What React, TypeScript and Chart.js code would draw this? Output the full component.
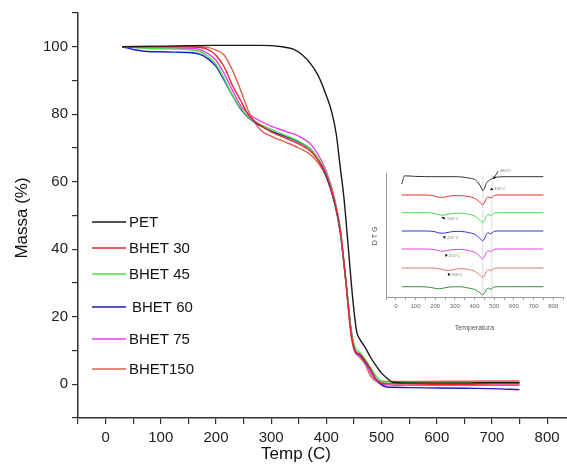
import React, { useEffect, useRef } from "react";
import { Chart, registerables } from "chart.js";

Chart.register(...registerables);

// ---------- Main TGA data ----------
const tempColored = [30, 50, 75, 100, 125, 150, 170, 185, 200, 215, 230, 245, 260, 280, 300, 325, 350, 375, 400, 415, 425, 435, 445, 452, 460, 470, 480, 490, 500, 510, 525, 550, 600, 650, 700, 750];
const tempPET = [30, 100, 200, 280, 320, 340, 355, 370, 385, 400, 410, 418, 425, 432, 440, 448, 455, 460, 470, 480, 490, 500, 510, 520, 550, 600, 650, 700, 750];

const massPET = [100, 100.2, 100.4, 100.4, 100, 99.3, 97.8, 95.3, 91.5, 85.5, 80.5, 74, 64.5, 55, 40, 25, 15.5, 13.5, 11, 8, 5.5, 3.3, 1.8, 0.6, 0.4, 0.4, 0.4, 0.5, 0.5];
const massBHET30 = [100, 100, 100, 100, 100, 100, 99.8, 99.2, 97.5, 94, 88.5, 84, 79.5, 76.8, 74.8, 73, 71.2, 68.5, 62, 54, 46, 31, 15, 9.8, 9, 7, 4.5, 1.5, 0.3, 0.1, 0.1, 0.1, 0, 0, 0.1, 0.1];
const massBHET45 = [100, 99.8, 99.5, 99.4, 99.3, 99.2, 98.6, 97.2, 94.8, 90.5, 85.5, 81.8, 79, 77, 75.5, 73.8, 72, 69, 62.5, 54.5, 46, 31, 16, 11, 9.5, 7.5, 5, 2.5, 0.8, 0.3, 0.3, 0.3, 0.2, 0.2, 0.3, 0.3];
const massBHET60 = [100, 99.2, 98.6, 98.5, 98.4, 98.3, 97.8, 96.5, 94.2, 90, 85.5, 81.5, 78.8, 76.6, 75, 73.5, 71.8, 69, 61.5, 53.5, 45, 31, 16, 10, 8.8, 6.7, 4.3, 1.5, -0.2, -0.8, -0.9, -1, -1.1, -1.2, -1.3, -1.6];
const massBHET75 = [100, 99.8, 99.6, 99.6, 99.6, 99.5, 99.2, 98, 96, 92, 87, 82.5, 80, 78, 76.5, 75, 73.5, 70.5, 63, 55, 46, 31, 15, 9.5, 8.5, 6.5, 3.5, 1, 0, -0.2, -0.3, -0.3, -0.3, -0.3, -0.3, -0.3];
const massBHET150 = [100, 100, 100, 100, 100, 100, 100, 99.8, 99, 97.5, 93, 87, 80.5, 75.5, 73.5, 71.8, 70, 67.5, 61.5, 54, 46, 31, 14, 9.5, 8, 6, 2.5, 1, 0.9, 0.8, 0.8, 0.8, 0.9, 0.9, 1, 1];

const seriesNames = ["PET", "BHET 30", "BHET 45", "BHET 60", "BHET 75", "BHET150"];
const seriesColors = ["#1a1a1a", "#e5262a", "#47e047", "#1c1cc8", "#f03cf0", "#d8654c"];

const xTickValues = [-50, 0, 50, 100, 150, 200, 250, 300, 350, 400, 450, 500, 550, 600, 650, 700, 750, 800];
const yTickValues = [-10, 0, 10, 20, 30, 40, 50, 60, 70, 80, 90, 100, 110];

// ---------- Inset DTG data ----------
const tempDTG = [30, 45, 100, 150, 180, 200, 220, 240, 260, 290, 330, 370, 400, 420, 435, 442, 450, 460, 470, 480, 490, 500, 520, 560, 650, 750];
const dtgPET = [111, 119.2, 118.6, 118.4, 118.3, 118.3, 118.3, 118.3, 118.3, 118.3, 118.1, 117, 115.5, 112, 107, 104.3, 106.5, 111.5, 114, 115.3, 116.5, 117.3, 118, 118.3, 118.3, 118.3];
const dtgBHET30 = [100, 100, 100, 100, 99.6, 98.8, 97.8, 97.6, 98.4, 99.3, 99.3, 98.4, 96.8, 94, 91.2, 90.3, 92, 96.5, 98.2, 97.2, 97.8, 99.5, 100, 100, 100, 100];
const dtgBHET45 = [82.3, 82.3, 82.3, 82.3, 82, 81.3, 80.2, 79.8, 80.5, 81.6, 81.8, 80.7, 79.1, 76.3, 73.5, 72.6, 74.3, 78.8, 80.5, 79.6, 80.4, 81.8, 82.3, 82.3, 82.3, 82.3];
const dtgBHET60 = [64, 64, 64, 64, 63.8, 63.2, 62, 61.8, 62.4, 63.4, 63.6, 62.4, 60.8, 58, 55.2, 54.3, 56, 60.5, 62.3, 61.2, 62.2, 63.6, 64, 64, 64, 64];
const dtgBHET75 = [46, 46, 46, 46, 45.8, 45.2, 44.2, 43.8, 44.4, 45.5, 45.6, 44.4, 42.8, 40, 37.2, 36.3, 38, 42.5, 44.3, 43.4, 44.2, 45.6, 46, 46, 46, 46];
const dtgBHET150 = [27, 27, 27, 27, 27, 26.8, 26.2, 25.5, 24.6, 25.2, 26.4, 25.4, 23.8, 21, 18.2, 17.3, 19, 23.5, 25.2, 24.4, 25.2, 26.6, 27, 27, 27, 27];
const dtgExtra = [8.3, 8.3, 8.3, 8.1, 7.5, 6.6, 6.2, 6.8, 7.6, 8.2, 8.2, 6.9, 5.6, 3.3, 1, 0.3, 1.8, 5.5, 6.8, 5.8, 6.8, 8, 8.3, 8.3, 8.3, 8.3];
const dtgColors = ["#333333", "#e03030", "#44dd44", "#3333cc", "#dd44dd", "#dd7766", "#3a8a3a"];

const insetTickValues = [-50, 0, 50, 100, 150, 200, 250, 300, 350, 400, 450, 500, 550, 600, 650, 700, 750, 800, 850];
const insetGuideTemps = [442, 488];
const annotTipT = [497, 480, 233, 240, 250, 265];
const annotTipV = [116, 105, 78, 59, 41, 22];
const annotTextT = [530, 500, 262, 262, 270, 282];
const annotTextV = [124, 106, 76, 57, 39, 20];
const annotLabels = ["480°C", "430°C", "240°C", "251°C", "251°C", "260°C"];

const FONT = "'Liberation Sans', Arial, Helvetica, sans-serif";

function pts(xs: number[], ys: number[]) {
  return xs.map((x, i) => ({ x, y: ys[i] }));
}

export default function App() {
  const mainRef = useRef<HTMLCanvasElement | null>(null);
  const insetRef = useRef<HTMLCanvasElement | null>(null);

  useEffect(() => {
    document.body.style.margin = "0";
    const mainSeries = [massPET, massBHET30, massBHET45, massBHET60, massBHET75, massBHET150];
    const mainTemps = [tempPET, tempColored, tempColored, tempColored, tempColored, tempColored];

    const legendY = [222, 248, 274, 307, 339, 369];
    const legendTextX = [129, 129, 129, 132, 129, 129];

    const mainPlugin = {
      id: "mainDeco",
      afterDraw(chart: any) {
        const ctx = chart.ctx;
        ctx.save();
        ctx.font = `15px ${FONT}`;
        ctx.textBaseline = "middle";
        ctx.textAlign = "left";
        seriesNames.forEach((name, i) => {
          ctx.strokeStyle = seriesColors[i];
          ctx.lineWidth = 1.5;
          ctx.beginPath();
          ctx.moveTo(92, legendY[i]);
          ctx.lineTo(126, legendY[i]);
          ctx.stroke();
          ctx.fillStyle = "#111";
          ctx.fillText(name, legendTextX[i], legendY[i] + 1);
        });
        ctx.font = `17px ${FONT}`;
        ctx.fillStyle = "#111";
        ctx.textAlign = "center";
        ctx.fillText("Temp (C)", 296, 454);
        ctx.translate(22, 218);
        ctx.rotate(-Math.PI / 2);
        ctx.fillText("Massa (%)", 0, 0);
        ctx.restore();
      },
    };

    const main = new Chart(mainRef.current as HTMLCanvasElement, {
      type: "line",
      data: {
        datasets: mainSeries.map((s, i) => ({
          label: seriesNames[i],
          data: pts(mainTemps[i], s),
          borderColor: seriesColors[i],
          borderWidth: 1.4,
          pointRadius: 0,
          cubicInterpolationMode: "monotone" as const,
          fill: false,
        })),
      },
      options: {
        animation: false,
        responsive: false,
        devicePixelRatio: 1,
        layout: { padding: { top: 13, right: 0, bottom: 0, left: 0 } },
        plugins: { legend: { display: false }, tooltip: { enabled: false } },
        scales: {
          x: {
            type: "linear",
            min: -50,
            max: 836,
            afterBuildTicks: (s: any) => {
              s.ticks = xTickValues.map((v) => ({ value: v }));
            },
            afterFit: (s: any) => {
              s.height = 48;
            },
            ticks: {
              autoSkip: false,
              maxRotation: 0,
              padding: 5,
              color: "#222",
              font: { family: FONT, size: 15 },
              callback: (v: any) => (Number(v) % 100 === 0 && Number(v) >= 0 ? String(v) : ""),
            },
            grid: { display: true, drawOnChartArea: false, drawTicks: true, tickLength: 6, color: "#333", lineWidth: 1.2 },
            border: { display: true, color: "#333", width: 1.5 },
          },
          y: {
            type: "linear",
            min: -10,
            max: 110,
            afterBuildTicks: (s: any) => {
              s.ticks = yTickValues.map((v) => ({ value: v }));
            },
            afterFit: (s: any) => {
              s.width = 78;
            },
            ticks: {
              autoSkip: false,
              padding: 4,
              color: "#222",
              font: { family: FONT, size: 15 },
              callback: (v: any) => (Number(v) % 20 === 0 && Number(v) >= 0 && Number(v) <= 100 ? String(v) : ""),
            },
            grid: { display: true, drawOnChartArea: false, drawTicks: true, tickLength: 6, color: "#333", lineWidth: 1.2 },
            border: { display: true, color: "#333", width: 1.5 },
          },
        },
      },
      plugins: [mainPlugin],
    } as any);

    const insetSeries = [dtgPET, dtgBHET30, dtgBHET45, dtgBHET60, dtgBHET75, dtgBHET150, dtgExtra];

    const insetPlugin = {
      id: "insetDeco",
      beforeDatasetsDraw(chart: any) {
        const ctx = chart.ctx;
        const xs = chart.scales.x;
        const a = chart.chartArea;
        ctx.save();
        ctx.strokeStyle = "#d0d0d0";
        ctx.lineWidth = 0.7;
        insetGuideTemps.forEach((t) => {
          const px = xs.getPixelForValue(t);
          ctx.beginPath();
          ctx.moveTo(px, a.top + 2);
          ctx.lineTo(px, a.bottom);
          ctx.stroke();
        });
        ctx.restore();
      },
      afterDraw(chart: any) {
        const ctx = chart.ctx;
        const xs = chart.scales.x;
        const ys = chart.scales.y;
        const a = chart.chartArea;
        ctx.save();
        annotLabels.forEach((lab, i) => {
          const tx = xs.getPixelForValue(annotTipT[i]);
          const ty = ys.getPixelForValue(annotTipV[i]);
          const lx = xs.getPixelForValue(annotTextT[i]);
          const ly = ys.getPixelForValue(annotTextV[i]);
          const sx = lx - 2;
          const sy = ly;
          ctx.strokeStyle = "#111";
          ctx.fillStyle = "#111";
          ctx.lineWidth = 0.8;
          ctx.beginPath();
          ctx.moveTo(sx, sy);
          ctx.lineTo(tx, ty);
          ctx.stroke();
          const ang = Math.atan2(ty - sy, tx - sx);
          ctx.beginPath();
          ctx.moveTo(tx, ty);
          ctx.lineTo(tx - 3 * Math.cos(ang - 0.5), ty - 3 * Math.sin(ang - 0.5));
          ctx.lineTo(tx - 3 * Math.cos(ang + 0.5), ty - 3 * Math.sin(ang + 0.5));
          ctx.closePath();
          ctx.fill();
          ctx.fillStyle = "#777";
          ctx.font = `4px ${FONT}`;
          ctx.textAlign = "left";
          ctx.textBaseline = "middle";
          ctx.fillText(lab, lx, ly);
        });
        ctx.fillStyle = "#555";
        ctx.font = `7px ${FONT}`;
        ctx.textAlign = "center";
        ctx.textBaseline = "middle";
        ctx.fillText("Temperatura", (a.left + a.right) / 2, 168);
        ctx.translate(15, 76);
        ctx.rotate(-Math.PI / 2);
        ctx.fillText("D T G", 0, 0);
        ctx.restore();
      },
    };

    const inset = new Chart(insetRef.current as HTMLCanvasElement, {
      type: "line",
      data: {
        datasets: insetSeries.map((s, i) => ({
          label: "dtg" + i,
          data: pts(tempDTG, s),
          borderColor: dtgColors[i],
          borderWidth: 1,
          pointRadius: 0,
          cubicInterpolationMode: "monotone" as const,
          fill: false,
        })),
      },
      options: {
        animation: false,
        responsive: false,
        devicePixelRatio: 1,
        layout: { padding: { top: 13, right: 4, bottom: 0, left: 26 } },
        plugins: { legend: { display: false }, tooltip: { enabled: false } },
        scales: {
          x: {
            type: "linear",
            min: -50,
            max: 850,
            afterBuildTicks: (s: any) => {
              s.ticks = insetTickValues.map((v) => ({ value: v }));
            },
            afterFit: (s: any) => {
              s.height = 43;
            },
            ticks: {
              autoSkip: false,
              maxRotation: 0,
              padding: 3,
              color: "#666",
              font: { family: FONT, size: 6 },
              callback: (v: any) => (Number(v) % 100 === 0 && Number(v) >= 0 && Number(v) <= 800 ? String(v) : ""),
            },
            grid: { display: true, drawOnChartArea: false, drawTicks: true, tickLength: 3, color: "#888", lineWidth: 0.8 },
            border: { display: true, color: "#999", width: 1 },
          },
          y: {
            type: "linear",
            min: -2,
            max: 122,
            afterFit: (s: any) => {
              s.width = 0;
            },
            ticks: { display: false },
            grid: { display: false },
            border: { display: true, color: "#999", width: 1 },
          },
        },
      },
      plugins: [insetPlugin],
    } as any);

    return () => {
      main.destroy();
      inset.destroy();
    };
  }, []);

  return (
    <div style={{ position: "relative", width: 567, height: 466, background: "#fff" }}>
      <canvas ref={mainRef} width={567} height={466} style={{ position: "absolute", left: 0, top: 0 }} />
      <canvas ref={insetRef} width={207} height={180} style={{ position: "absolute", left: 360, top: 160 }} />
    </div>
  );
}
